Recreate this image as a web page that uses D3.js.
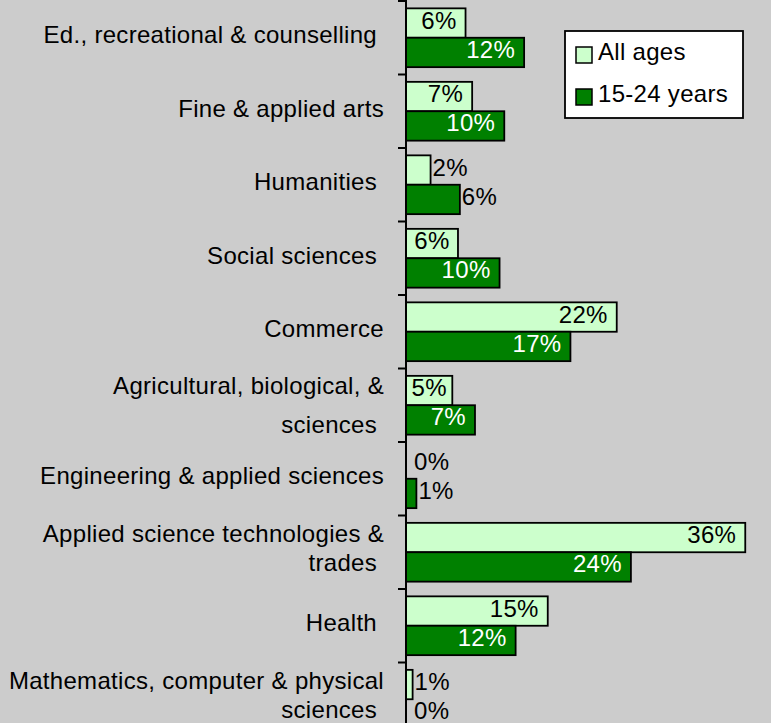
<!DOCTYPE html>
<html>
<head>
<meta charset="utf-8">
<script src="https://cdn.jsdelivr.net/npm/d3@7"></script>
<style>
  html, body { margin: 0; padding: 0; background: #cccccc; }
  svg { display: block; }
  text { font-family: "Liberation Sans", Arial, sans-serif; font-size: 24px; letter-spacing: 0.3px; white-space: pre; }
</style>
</head>
<body>
<svg id="chart" width="771" height="723"></svg>
<script>
// ---- data ----
const categories = [
  ["Ed., recreational & counselling "],
  ["Fine & applied arts"],
  ["Humanities "],
  ["Social sciences "],
  ["Commerce"],
  ["Agricultural, biological, &", "sciences "],
  ["Engineering & applied sciences"],
  ["Applied science technologies &", "trades "],
  ["Health "],
  ["Mathematics, computer & physical", "sciences "]
];
const seriesNames = ["All ages", "15-24 years"];
const allAges   = [6.3, 7.0, 2.6, 5.5, 22.3, 4.9, 0.0, 35.9, 15.0, 0.7];
const youth     = [12.5, 10.4, 5.7, 9.9, 17.4, 7.3, 1.1, 23.8, 11.6, 0.0];
const allAgesLabels = ["6%", "7%", "2%", "6%", "22%", "5%", "0%", "36%", "15%", "1%"];
const youthLabels   = ["12%", "10%", "6%", "10%", "17%", "7%", "1%", "24%", "12%", "0%"];

// ---- layout ----
const W = 771, H = 723;
const axisX = 406;
const svg = d3.select("#chart");
svg.append("rect").attr("width", W).attr("height", H).attr("fill", "#cccccc");

const idx = d3.range(categories.length);
const y = d3.scaleBand().domain(idx).range([1, 1 + 73.5 * categories.length]).padding(0);
const x = d3.scaleLinear().domain([0, 40]).range([axisX, axisX + 378]);
const step = y.step();
const barH = step * 0.4;

const colors = ["#ccffcc", "#008000"];
const textColors = ["#000000", "#ffffff"];
const series = [
  { values: allAges, labels: allAgesLabels, off: step * 0.1, minRoom: 8 },
  { values: youth,   labels: youthLabels,   off: step * 0.5, minRoom: 24 }
];

const g = svg.append("g");

series.forEach((s, si) => {
  g.selectAll(null).data(idx.filter(i => s.values[i] > 0)).enter().append("rect")
    .attr("x", x(0))
    .attr("y", i => y(i) + s.off)
    .attr("width", i => x(s.values[i]) - x(0))
    .attr("height", barH)
    .attr("fill", colors[si])
    .attr("stroke", "#000")
    .attr("stroke-width", 1.8);
});

// value labels
series.forEach((s, si) => {
  idx.forEach(i => {
    const end = x(s.values[i]);
    const cy = y(i) + s.off + barH / 2 + 5.5;
    const t = g.append("text").attr("y", cy).text(s.labels[i]);
    const tw = t.node().getComputedTextLength();
    const bw = end - x(0);
    if (bw >= tw + s.minRoom) {
      const pad = Math.min(9, (bw - tw) / 2);
      t.attr("x", end - pad).attr("text-anchor", "end").attr("fill", textColors[si]);
    } else {
      t.attr("x", Math.max(end + 2, axisX + 8)).attr("text-anchor", "start").attr("fill", "#000");
    }
  });
});

// axis line & ticks at band boundaries
g.append("line").attr("x1", axisX).attr("x2", axisX).attr("y1", 0).attr("y2", H)
  .attr("stroke", "#000").attr("stroke-width", 2);
const bounds = idx.map(i => y(i)).concat([y(idx[idx.length - 1]) + step]);
g.selectAll(null).data(bounds).enter().append("line")
  .attr("x1", axisX - 8).attr("x2", axisX).attr("y1", d => d).attr("y2", d => d)
  .attr("stroke", "#000").attr("stroke-width", 2);

// category labels
categories.forEach((lines, i) => {
  const c = y(i) + step / 2;
  const t = g.append("text").attr("text-anchor", "end").attr("fill", "#000");
  if (lines.length === 1) {
    t.append("tspan").attr("x", 384).attr("y", c + 5.3).text(lines[0]);
  } else {
    const gap = i === 5 ? 38.4 : 28.8;
    const top = i === 5 ? c - 11 : c - 10.5;
    lines.forEach((ln, k) => {
      t.append("tspan").attr("x", 384).attr("y", top + k * gap).text(ln);
    });
  }
});

// legend
const lg = svg.append("g");
lg.append("rect").attr("x", 565).attr("y", 31).attr("width", 178).attr("height", 87)
  .attr("fill", "#fff").attr("stroke", "#000").attr("stroke-width", 1.8);
seriesNames.forEach((n, k) => {
  lg.append("rect").attr("x", 576).attr("y", 47 + k * 42).attr("width", 16).attr("height", 16)
    .attr("fill", colors[k]).attr("stroke", "#000").attr("stroke-width", 1.5);
  lg.append("text").attr("x", 598).attr("y", 59.5 + k * 42).attr("fill", "#000").text(n);
});
</script>
</body>
</html>
